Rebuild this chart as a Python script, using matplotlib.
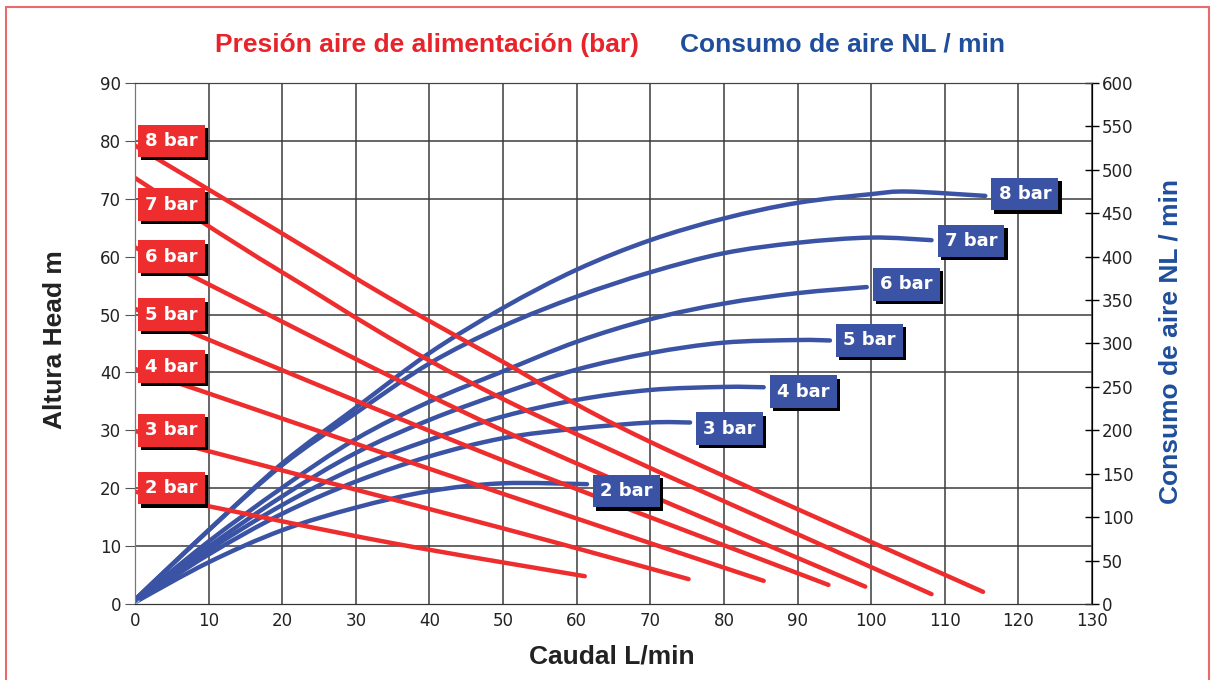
import matplotlib
matplotlib.use('Agg')
import matplotlib.pyplot as plt
import matplotlib.patheffects as pe
from matplotlib.patches import Rectangle, PathPatch
from matplotlib.path import Path
from matplotlib.ticker import FixedLocator, MultipleLocator

# presiones de alimentacion
pressures = ['8 bar', '7 bar', '6 bar', '5 bar', '4 bar', '3 bar', '2 bar']

# altura (m) vs caudal (L/min), lineas rojas
head_flow = [
    [0, 20, 34.6, 49.6, 69.5, 115.2],
    [0, 20, 50, 108.2],
    [0, 8.8, 49.6, 99.2],
    [0, 8.8, 49.6, 94.2],
    [0, 8.8, 49.6, 85.4],
    [0, 8.8, 49.6, 75.2],
    [0, 8.8, 34.6, 61.1],
]
head_m = [
    [79.2, 64.0, 52.8, 42.1, 28.3, 2.1],
    [73.6, 57.3, 35.4, 1.7],
    [61.6, 56.0, 30.2, 3.0],
    [51.0, 46.3, 25.0, 3.3],
    [40.6, 36.9, 19.2, 4.0],
    [29.9, 26.8, 13.2, 4.3],
    [19.4, 17.2, 10.6, 4.8],
]

# consumo de aire (NL/min) vs caudal (L/min), curvas azules
air_flow = [
    [0, 10, 20, 30, 40, 50, 60, 70, 80, 90, 100, 105, 115.5],
    [0, 10, 20, 30, 40, 50, 60, 70, 80, 90, 100, 108.2],
    [0, 10, 20, 30, 40, 50, 60, 70, 80, 90, 99.4],
    [0, 10, 20, 30, 40, 50, 60, 70, 80, 90, 94.4],
    [0, 10, 20, 30, 40, 50, 60, 70, 80, 85.4],
    [0, 10, 20, 30, 40, 50, 60, 70, 75.4],
    [0, 10, 20, 30, 40, 50, 61.4],
]
air_nl = [
    [5, 85, 162, 226, 289, 341, 385, 419, 444, 462, 472, 475, 470],
    [5, 85, 160, 220, 277, 320, 354, 382, 404, 416, 422, 419],
    [3, 72, 134, 190, 233, 268, 302, 328, 346, 358, 365],
    [3, 66, 124, 174, 212, 243, 270, 289, 301, 304, 303.5],
    [2, 62, 114, 157, 189, 216, 235, 246.5, 250, 249.6],
    [2, 57, 104, 141, 170, 191, 202, 209, 209],
    [2, 48, 85, 111, 130, 139, 138],
]

# posicion de las etiquetas
red_label_y = [80, 69, 60, 50, 41, 30, 20]
blue_label_dy = [2, -1, 3, 0, -5, -7, -8]

RED = '#ee2e2e'
BLUE = '#3b53a4'
TITLE_RED = '#e8232a'
TITLE_BLUE = '#1f4e9c'

plt.rcParams['font.family'] = ['DejaVu Sans']


def smooth_path(xs, ys):
    # curva suave (catmull-rom) que pasa por los puntos leidos
    verts = [(xs[0], ys[0])]
    codes = [Path.MOVETO]
    n = len(xs)
    for i in range(n - 1):
        p0 = (xs[i - 1], ys[i - 1]) if i > 0 else (xs[i], ys[i])
        p1 = (xs[i], ys[i])
        p2 = (xs[i + 1], ys[i + 1])
        p3 = (xs[i + 2], ys[i + 2]) if i + 2 < n else p2
        c1 = (p1[0] + (p2[0] - p0[0]) / 6, p1[1] + (p2[1] - p0[1]) / 6)
        c2 = (p2[0] - (p3[0] - p1[0]) / 6, p2[1] - (p3[1] - p1[1]) / 6)
        verts += [c1, c2, p2]
        codes += [Path.CURVE4] * 3
    return Path(verts, codes)


fig = plt.figure(figsize=(12.14, 6.8), dpi=100)
ax = fig.add_axes([135 / 1214, 1 - 604 / 680, (1092 - 135) / 1214, (604 - 83) / 680])
ax2 = ax.twinx()

# eje de consumo (derecha)
ax.set_xlim(0, 130)
ax.set_ylim(0, 600)
ax.set_xticks(range(0, 131, 10))
ax.yaxis.tick_right()
ax.yaxis.set_major_locator(MultipleLocator(50))
ax.yaxis.set_minor_locator(FixedLocator([h * 600 / 90 for h in range(0, 91, 10)]))
ax.tick_params(axis='y', which='major', direction='inout', length=10, width=1,
               color='black', labelsize=12, pad=2, labelcolor='#222222')
ax.tick_params(axis='y', which='minor', length=0)
ax.tick_params(axis='x', length=0, pad=6, labelsize=12, labelcolor='#222222')
ax.grid(True, which='major', axis='x', color='#3c3c3c', lw=1.1)
ax.grid(True, which='minor', axis='y', color='#3c3c3c', lw=1.1)
ax.set_axisbelow(True)

# eje de altura (izquierda)
ax2.set_ylim(0, 90)
ax2.yaxis.tick_left()
ax2.set_yticks(range(0, 91, 10))
ax2.tick_params(axis='y', direction='out', length=7, color='#555555',
                labelsize=12, pad=3, labelcolor='#222222')

for a in (ax, ax2):
    a.spines['left'].set_color('#777777')
    a.spines['right'].set_color('black')
    a.spines['bottom'].set_color('#333333')
    a.spines['top'].set_color('#444444')

for q, nl in zip(air_flow, air_nl):
    ax.add_patch(PathPatch(smooth_path(q, nl), fc='none', ec=BLUE, lw=3.2,
                           capstyle='round', joinstyle='round', zorder=2))
ax.plot([0], [0], marker='x', color='#8ab8e8', ms=6, mew=1, zorder=3)

for q, h in zip(head_flow, head_m):
    ax2.add_patch(PathPatch(smooth_path(q, h), fc='none', ec=RED, lw=3.2,
                            capstyle='round', joinstyle='round', zorder=2))


def boxed(axis, x, y, text, face, trans, ha):
    t = axis.text(x, y, text, transform=trans, color='white', zorder=6,
                  ha=ha, va='center', fontsize=13, fontweight='bold',
                  bbox=dict(boxstyle='square,pad=0.4', fc=face, ec='none'))
    t.get_bbox_patch().set_path_effects([
        pe.withSimplePatchShadow(offset=(2.3, -2.3), shadow_rgbFace='black',
                                 alpha=1.0),
        pe.Normal()])
    return t


for name, y in zip(pressures, red_label_y):
    boxed(ax2, 4.9, y, name, RED, ax2.transData, 'center')

for name, q, nl, dy in zip(pressures, air_flow, air_nl, blue_label_dy):
    boxed(ax2, q[-1] + 1.8, nl[-1] + dy, name, BLUE, ax.transData, 'left')

# titulos
fig.text(215 / 1214, 1 - 45 / 680, 'Presión aire de alimentación (bar)',
         color=TITLE_RED, fontsize=19, fontweight='bold',
         family='Liberation Sans', va='center', ha='left')
fig.text(680 / 1214, 1 - 45 / 680, 'Consumo de aire NL / min',
         color=TITLE_BLUE, fontsize=19, fontweight='bold',
         family='Liberation Sans', va='center', ha='left')
fig.text(55 / 1214, 1 - 340 / 680, 'Altura Head m', rotation=90,
         color='#222222', fontsize=19, fontweight='bold',
         family='Liberation Sans', va='center', ha='center')
fig.text(1170 / 1214, 1 - 342 / 680, 'Consumo de aire NL / min', rotation=90,
         color=TITLE_BLUE, fontsize=19, fontweight='bold',
         family='Liberation Sans', va='center', ha='center')
fig.text(612 / 1214, 1 - 657 / 680, 'Caudal L/min',
         color='#222222', fontsize=19, fontweight='bold',
         family='Liberation Sans', va='center', ha='center')

# marco
fig.patches.append(Rectangle((6 / 1214, -0.05), 1203 / 1214, 1.05 - 7 / 680,
                             transform=fig.transFigure, fill=False,
                             ec='#e86a6a', lw=1.5))

fig.savefig('out.png', dpi=100)
